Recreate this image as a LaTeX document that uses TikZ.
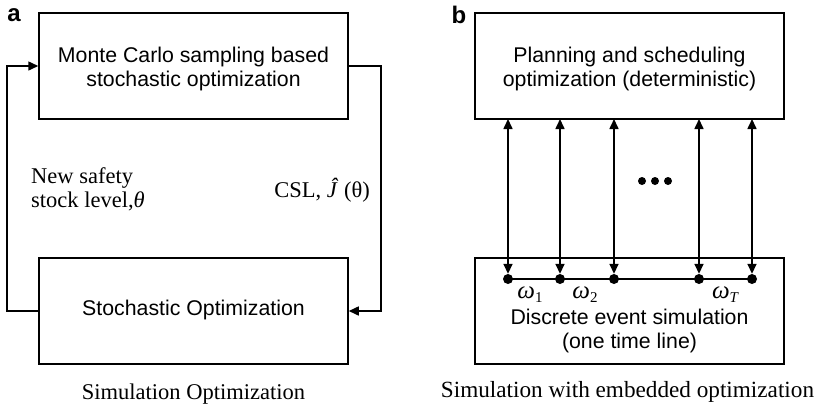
\documentclass[tikz,border=0pt]{standalone}
\usepackage{fontspec}
\setmainfont{Liberation Serif}
\newfontfamily\boxfont{Liberation Sans}
\usetikzlibrary{arrows.meta}
\newcommand{\omsub}[2]{\textit{ω}\raisebox{-0.35ex}{\fontsize{15}{15}\selectfont #1{#2}}}
\begin{document}
\begin{tikzpicture}[x=1pt,y=-1pt,
  box/.style={draw, line width=1.5pt, minimum width=309pt, minimum height=106pt, inner sep=0pt},
  boxtext/.style={font=\boxfont\fontsize{21.3}{24}\selectfont, align=center, inner sep=0pt},
  serif/.style={font=\fontsize{22.5}{24}\selectfont, inner sep=0pt},
  panel/.style={font=\boxfont\bfseries\fontsize{24}{26}\selectfont, inner sep=0pt},
  conn/.style={line width=1.5pt, -{Triangle[length=10pt,width=9pt]}},
  dconn/.style={line width=1.6pt, {Triangle[length=10pt,width=9pt]}-{Triangle[length=10pt,width=9pt]}},
  evdot/.style={circle, fill=black, minimum size=10pt, inner sep=0pt},
  eldot/.style={circle, fill=black, minimum size=8pt, inner sep=0pt}]
\useasboundingbox (0,0) rectangle (814,407);

% ---- panel a ----
\node[panel] (la) at (14,15) {a};
\node[box] (A) at (193.5,66) {};
\node[boxtext] (At) at (193.5,69) {Monte Carlo sampling based\\stochastic optimization};
\node[box] (B) at (193.5,311) {};
\node[boxtext] (Bt) at (193.5,310) {Stochastic Optimization};
\draw[conn] (B.west) -- ++(-31.5,0) coordinate (lc) |- (A.west);
\draw[conn] (A.east) -- ++(32,0) coordinate (rc) |- (B.east);
\node[serif, anchor=west, align=left] (nl) at (31,189) {New safety\\stock level,\textit{θ}};
\node[serif, anchor=east] (cl) at (370,190) {CSL, \textit{Ĵ} (θ)};
\node[serif, anchor=base] (ca) at (193.5,399) {Simulation Optimization};

% ---- panel b ----
\node[panel] (lb) at (459,15) {b};
\node[box] (C) at (629.5,66) {};
\node[boxtext] (Ct) at (629.5,69) {Planning and scheduling\\optimization (deterministic)};
\node[box] (D) at (629.5,311) {};
\node[boxtext] (Dt) at (629.5,331) {Discrete event simulation\\(one time line)};
\foreach \i/\x in {1/508,2/560,3/614,4/699,5/752}{
  \node[evdot] (e\i) at (\x,279) {};
  \coordinate (t\i) at (\x,119);
}
\draw[line width=1.5pt] (e1.center) -- (e5.center);
\foreach \i in {1,...,5}{
  \draw[dconn] (t\i) -- (e\i.north);
}
\node[serif, font=\fontsize{25}{26}\selectfont] (w1) at (530,295) {\omsub{}{1}};
\node[serif, font=\fontsize{25}{26}\selectfont] (w2) at (585,295) {\omsub{}{2}};
\node[serif, font=\fontsize{25}{26}\selectfont] (wT) at (725,295) {\omsub{\itshape}{T}};
\node[eldot] (d1) at (642,181) {};
\node[eldot] (d2) at (655,181) {};
\node[eldot] (d3) at (668,181) {};
\node[serif, anchor=base, font=\fontsize{23.2}{25}\selectfont] (cb) at (627.5,397) {Simulation with embedded optimization};
\end{tikzpicture}
\end{document}
